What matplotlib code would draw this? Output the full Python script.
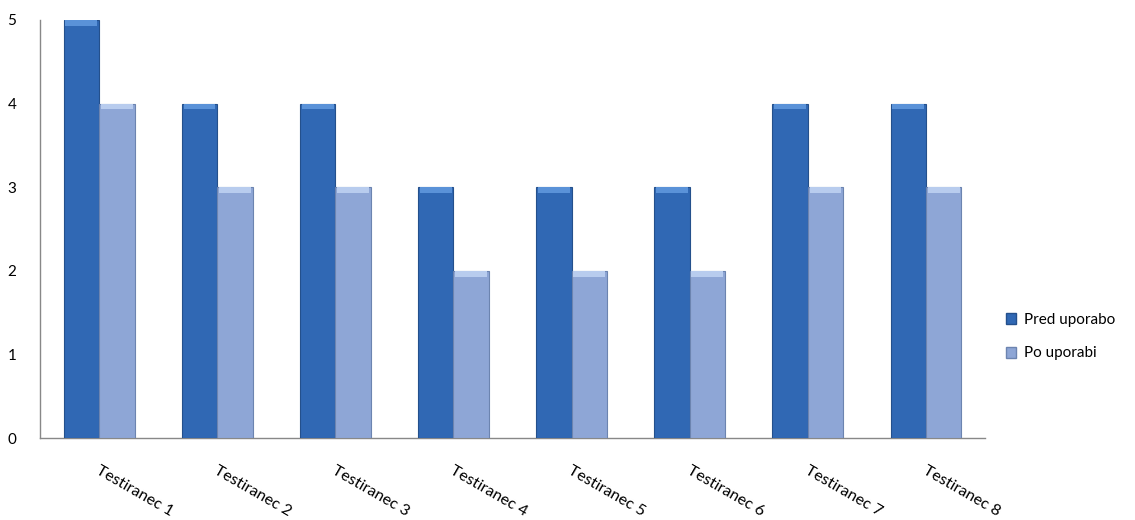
import matplotlib
matplotlib.use("Agg")
import matplotlib.pyplot as plt
import numpy as np
from matplotlib.patches import Patch

categories = ["Testiranec 1", "Testiranec 2", "Testiranec 3", "Testiranec 4",
              "Testiranec 5", "Testiranec 6", "Testiranec 7", "Testiranec 8"]
pred = [5, 4, 4, 3, 3, 3, 4, 4]
po = [4, 3, 3, 2, 2, 2, 3, 3]
series_names = ["Pred uporabo", "Po uporabi"]

plt.rcParams['font.family'] = ['Lato', 'DejaVu Sans']

fig = plt.figure(figsize=11.35 * np.array([1, 520 / 1135]), dpi=100)
ax = fig.add_axes([40 / 1135, 1 - 438 / 520, (985 - 40) / 1135, (438 - 20) / 520])

x = np.arange(len(categories))
w = 0.30
c1 = "#3068B4"
c2 = "#8EA6D6"
b1 = ax.bar(x - w / 2, pred, w, color=c1, edgecolor="#24508C", linewidth=0.8, zorder=3)
b2 = ax.bar(x + w / 2, po, w, color=c2, edgecolor="#6C84B0", linewidth=0.8, zorder=3)

# top highlight caps
for bars, cap in ((b1, "#5A92D8"), (b2, "#B8CCEE")):
    for r in bars:
        ax.bar(r.get_x() + r.get_width() / 2, 0.07, r.get_width() * 0.9,
               bottom=r.get_height() - 0.07, color=cap, linewidth=0, zorder=4)

ax.set_xlim(-0.5, len(categories) - 0.5)
ax.set_ylim(0, 5)
ax.set_yticks([0, 1, 2, 3, 4, 5])
ax.tick_params(axis='y', length=0, pad=17, labelsize=11)
ax.tick_params(axis='x', length=0)
ax.set_xticks(x)
ax.set_xticklabels([])
for xi, lab in zip(x, categories):
    ax.annotate(lab, xy=(xi, 0), xycoords='data', xytext=(1, -18), textcoords='offset points',
                rotation=-30, rotation_mode='anchor', ha='left', va='top', fontsize=11.5)

for s in ("top", "right"):
    ax.spines[s].set_visible(False)
for s in ("left", "bottom"):
    ax.spines[s].set_color("#888888")
    ax.spines[s].set_linewidth(1.0)

handles = [Patch(facecolor=c1, edgecolor="#24508C"), Patch(facecolor=c2, edgecolor="#6C84B0")]
fig.legend(handles, series_names, loc='upper left', bbox_to_anchor=(998 / 1135, 1 - 305 / 520),
           frameon=False, fontsize=11, handlelength=0.7, handleheight=0.7, handletextpad=0.5,
           labelspacing=1.3, borderpad=0)

fig.savefig("out.png", dpi=100)
